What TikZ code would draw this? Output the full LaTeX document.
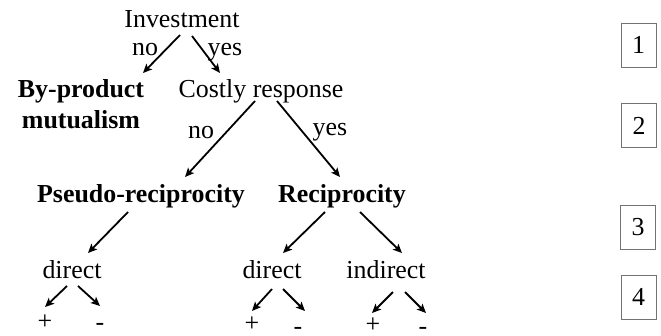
\documentclass[tikz,border=0pt]{standalone}
\usepackage{fontspec}
\setmainfont{Liberation Serif}
\usetikzlibrary{arrows.meta}
\begin{document}
\begin{tikzpicture}[x=1bp,y=-1bp,
  txt/.style={inner sep=0pt,anchor=base,font=\fontsize{26}{30}\selectfont},
  btxt/.style={txt,font=\fontsize{26}{30}\selectfont\bfseries},
  sgn/.style={txt},
  arr/.style={line width=1.8bp,-{Stealth[length=9bp,width=8bp,inset=2bp]}},
  numbox/.style={draw=black!55,line width=1bp,minimum width=35bp,minimum height=44bp,inner sep=0pt,font=\fontsize{26}{30}\selectfont}]
\useasboundingbox (0,0) rectangle (661,335);
% texts
\node[txt] (inv) at (182,27) {Investment};
\node[txt] (no1) at (145,55) {no};
\node[txt] (yes1) at (225,55) {yes};
\node[btxt] (bp1) at (81,97) {By-product};
\node[btxt] (bp2) at (81,128) {mutualism};
\node[txt] (cost) at (261,97) {Costly response};
\node[txt] (no2) at (201,138) {no};
\node[txt] (yes2) at (330,135) {yes};
\node[btxt] (pseudo) at (141,202) {Pseudo-reciprocity};
\node[btxt] (recip) at (342,202) {Reciprocity};
\node[txt] (d1) at (72,278) {direct};
\node[txt] (d2) at (272,278) {direct};
\node[txt] (ind) at (386,278) {indirect};
\node[sgn] (p1) at (45,329) {+};
\node[sgn] (m1) at (100,330) {-};
\node[sgn] (p2) at (252,331) {+};
\node[sgn] (m2) at (298,334) {-};
\node[sgn] (p3) at (373,332) {+};
\node[sgn] (m3) at (423,334) {-};
% boxes
\node[numbox] (b1) at (638.5,45) {1};
\node[numbox] (b2) at (639,125.5) {2};
\node[numbox] (b3) at (638,227.5) {3};
\node[numbox] (b4) at (638.5,297) {4};
% arrows
\draw[arr] ([shift={(-2,8)}]inv.base) -- ([shift={(62,-24)}]bp1.base);
\draw[arr] ([shift={(10,9)}]inv.base) -- ([shift={(-41,-24)}]cost.base);
\draw[arr] ([shift={(-6,4)}]cost.base) -- ([shift={(44,-25)}]pseudo.base);
\draw[arr] ([shift={(16,4)}]cost.base) -- ([shift={(-2,-25)}]recip.base);
\draw[arr] ([shift={(-13,10)}]pseudo.base) -- ([shift={(16,-25)}]d1.base);
\draw[arr] ([shift={(-17,10)}]recip.base) -- ([shift={(11,-25)}]d2.base);
\draw[arr] ([shift={(18,10)}]recip.base) -- ([shift={(16,-25)}]ind.base);
\draw[arr] ([shift={(-5,8)}]d1.base) -- ([shift={(0,-22)}]p1.base);
\draw[arr] ([shift={(6,8)}]d1.base) -- ([shift={(0,-24)}]m1.base);
\draw[arr] ([shift={(0,11)}]d2.base) -- ([shift={(0,-20)}]p2.base);
\draw[arr] ([shift={(11,11)}]d2.base) -- ([shift={(7,-23)}]m2.base);
\draw[arr] ([shift={(7,14)}]ind.base) -- ([shift={(-1,-19)}]p3.base);
\draw[arr] ([shift={(19,14)}]ind.base) -- ([shift={(3,-21)}]m3.base);
\end{tikzpicture}
\end{document}
